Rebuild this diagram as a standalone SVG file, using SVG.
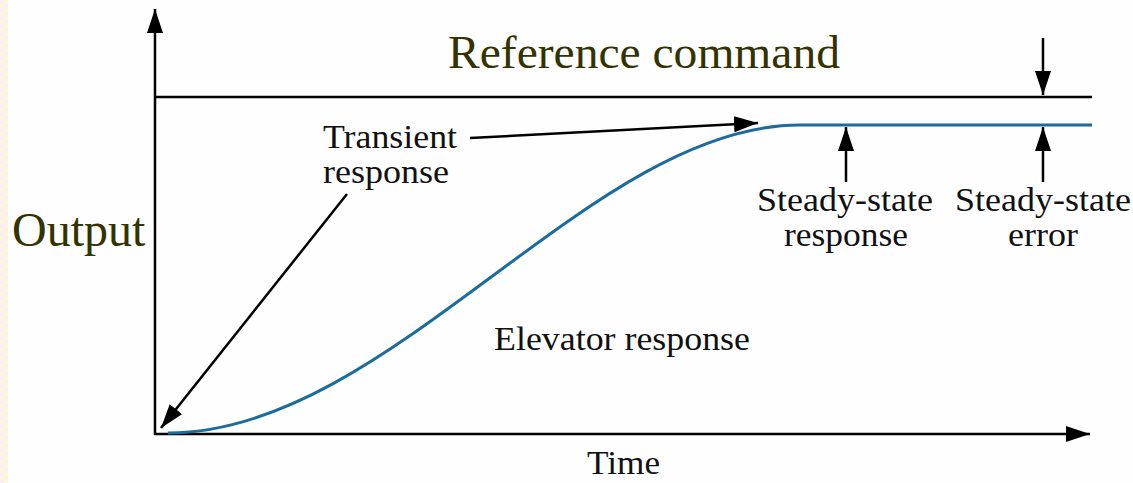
<svg xmlns="http://www.w3.org/2000/svg" width="1133" height="483" viewBox="0 0 1133 483">
  <style>
    .ax { stroke: #000; stroke-width: 2.5; fill: none; }
    .lead { stroke: #000; stroke-width: 2.5; fill: none; }
    .curve { stroke: #1b6c9c; stroke-width: 3; fill: none; }
    .lbl { font-family: "Liberation Serif", "Times New Roman", serif; font-size: 33px; fill: #111; }
    .big { font-family: "Liberation Serif", "Times New Roman", serif; fill: #333300; }
  </style>
  <defs>
    <marker id="head" viewBox="0 0 24 16" refX="24" refY="8" markerWidth="24" markerHeight="16" markerUnits="userSpaceOnUse" orient="auto">
      <path d="M0,0 L24,8 L0,16 Z" fill="#000"/>
    </marker>
    <pattern id="strip" width="8" height="8" patternUnits="userSpaceOnUse">
      <rect width="8" height="8" fill="#fdf7d8"/>
      <rect width="4" height="4" fill="#fbeef0"/>
      <rect x="4" y="4" width="4" height="4" fill="#fbeef0"/>
    </pattern>
  </defs>

  <rect width="1133" height="483" fill="#fefefe"/>
  <rect width="8" height="483" fill="url(#strip)"/>

  <g id="axes">
    <line class="ax" x1="155" y1="435" x2="155" y2="9" marker-end="url(#head)"/>
    <line class="ax" x1="154" y1="434" x2="1090" y2="434" marker-end="url(#head)"/>
  </g>

  <g id="reference-command">
    <line class="ax" x1="155" y1="97" x2="1092" y2="97"/>
    <text class="big" x="448" y="68" font-size="46" textLength="392" lengthAdjust="spacingAndGlyphs">Reference command</text>
  </g>

  <g id="elevator-response">
    <path class="curve" d="M168,433 C390,433 590,125 800,125 L1092,125"/>
    <text class="lbl" x="494" y="350" textLength="256" lengthAdjust="spacingAndGlyphs">Elevator response</text>
  </g>

  <g id="output-label">
    <text class="big" x="12" y="246" font-size="48">Output</text>
  </g>

  <g id="time-label">
    <text class="lbl" x="587" y="474" textLength="73" lengthAdjust="spacingAndGlyphs">Time</text>
  </g>

  <g id="transient-response">
    <text class="lbl" x="323" y="148" textLength="134" lengthAdjust="spacingAndGlyphs">Transient</text>
    <text class="lbl" x="323" y="183" textLength="126" lengthAdjust="spacingAndGlyphs">response</text>
  </g>

  <g id="steady-state-response">
    <text class="lbl" x="757" y="211" textLength="176" lengthAdjust="spacingAndGlyphs">Steady-state</text>
    <text class="lbl" x="784" y="246" textLength="124" lengthAdjust="spacingAndGlyphs">response</text>
  </g>

  <g id="steady-state-error">
    <text class="lbl" x="955" y="211" textLength="176" lengthAdjust="spacingAndGlyphs">Steady-state</text>
    <text class="lbl" x="1008" y="246" textLength="70" lengthAdjust="spacingAndGlyphs">error</text>
  </g>

  <g id="connectors">
    <line class="lead" x1="470" y1="138" x2="758" y2="123" marker-end="url(#head)"/>
    <line class="lead" x1="347" y1="194" x2="161" y2="428" marker-end="url(#head)"/>
    <line class="lead" x1="846" y1="182" x2="846" y2="127" marker-end="url(#head)"/>
    <line class="lead" x1="1043" y1="182" x2="1043" y2="127" marker-end="url(#head)"/>
    <line class="lead" x1="1043" y1="38" x2="1043" y2="95" marker-end="url(#head)"/>
  </g>
</svg>
